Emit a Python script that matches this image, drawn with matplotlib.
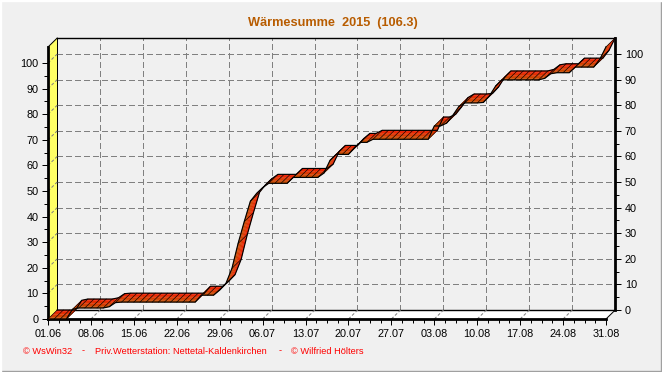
import matplotlib

matplotlib.use("Agg")
import matplotlib.pyplot as plt
from matplotlib.collections import PolyCollection
from matplotlib.patches import Polygon, Rectangle

plt.rcParams["font.family"] = ["Liberation Sans", "DejaVu Sans"]

# cumulative sum per day, 01.06 - 31.08
values = [
    0, 0, 0, 0, 3.8, 4.3, 4.3, 4.3, 4.3, 4.3,  # 01.06
    4.8, 6.4, 6.6, 6.6, 6.6, 6.6, 6.6, 6.6, 6.6, 6.6,  # 11.06
    6.6, 6.6, 6.6, 6.6, 6.6, 9.3, 9.3, 9.3, 11.3, 13.8,  # 21.06
    19.8, 29.5, 38, 46, 49, 51.3, 53, 53, 53, 53,  # 01.07
    55.3, 55.3, 55.3, 55.3, 55.3, 57, 62, 64.3, 64.3, 64.3,  # 11.07
    67, 69, 69, 70.2, 70.2, 70.2, 70.2, 70.2, 70.2, 70.2,  # 21.07
    70.2, 70.2, 70.2, 75.4, 75.4, 76.5, 79.5, 83, 84.4, 84.4,  # 31.07
    84.4, 84.6, 87.2, 91, 93.4, 93.4, 93.4, 93.4, 93.4, 93.4,  # 10.08
    93.4, 94, 95.8, 96.2, 96.2, 96.2, 98.4, 98.4, 98.4, 98.4,  # 20.08
    101.5, 106.3,  # 30.08
]
date_labels = [
    "01.06", "08.06", "15.06", "22.06", "29.06", "06.07", "13.07",
    "20.07", "27.07", "03.08", "10.08", "17.08", "24.08", "31.08",
]
y_major = list(range(0, 101, 10))
y_minor = list(range(5, 101, 10))

W, H = 662, 372
BG = "#F0F0F0"
DX = 1.5  # depth of the 3d box in days
DY = 3.5  # and in value units
YMAX = 106.25
XMAX = 91
GRID_COL = "#808080"
DASH = (0, (3.7, 2.7))
THIN = 0.72  # 1 px


def px_rect(left, top, right, bottom):
    return [left / W, 1 - bottom / H, (right - left) / W, (bottom - top) / H]


def mix(a, b, t):
    return tuple(a[k] + (b[k] - a[k]) * t for k in range(3))


fig = plt.figure(figsize=(W / 100, H / 100), dpi=100, facecolor=BG)

# window border
fig.add_artist(Rectangle((0, 0), 1, 1 / H, transform=fig.transFigure, color="#A0A0A0"))
fig.add_artist(Rectangle((1 - 1 / W, 0), 1 / W, 1, transform=fig.transFigure, color="#A0A0A0"))
fig.add_artist(Rectangle((0, 1 - 1 / H), 1, 1 / H, transform=fig.transFigure, color="#FFFFFF"))
fig.add_artist(Rectangle((0, 0), 1 / W, 1, transform=fig.transFigure, color="#FFFFFF"))

# back wall: grid and right axis
back = fig.add_axes(px_rect(57, 38, 615, 310), facecolor="none", zorder=1)
back.set_xlim(0, XMAX)
back.set_ylim(0, YMAX)
back.set_xticks(range(7, XMAX, 7))
back.set_yticks(y_major)
back.set_yticks(y_minor, minor=True)
back.grid(True, color=GRID_COL, linestyle=DASH, linewidth=1.0, antialiased=False)
back.get_ygridlines()[0].set_visible(False)
back.tick_params(axis="x", length=0, labelbottom=False)
back.yaxis.tick_right()
back.tick_params(axis="y", which="major", length=4, width=THIN, labelsize=7.8, pad=3)
back.tick_params(axis="y", which="minor", length=3, width=THIN)
for side in ["left", "bottom"]:
    back.spines[side].set_visible(False)
back.spines["top"].set_linewidth(1.0)
back.spines["right"].set_linewidth(2.0)

# front: left and bottom axis, floor, left wall and the ribbon
ax = fig.add_axes(px_rect(48, 47, 606, 319), facecolor="none", zorder=2)
ax.set_xlim(0, XMAX)
ax.set_ylim(0, YMAX)
ax.set_xticks(range(0, XMAX + 1, 7), date_labels)
ax.set_xticks([i * 1.75 for i in range(53)], minor=True)
ax.set_yticks(y_major)
ax.set_yticks(y_minor, minor=True)
ax.tick_params(axis="both", which="major", length=4, width=THIN, labelsize=7.8, pad=3)
ax.tick_params(axis="both", which="minor", length=3, width=THIN)
for side in ["top", "right"]:
    ax.spines[side].set_visible(False)
ax.spines["left"].set_linewidth(2.0)
ax.spines["bottom"].set_linewidth(2.0)

ax.add_patch(Polygon(
    [(0, 0), (DX, DY), (DX, YMAX + DY), (0, YMAX)],
    closed=True, facecolor="#FFFF66", edgecolor="none", clip_on=False, zorder=1,
))
ax.add_patch(Polygon(
    [(0, 0), (XMAX, 0), (XMAX + DX, DY), (DX, DY)],
    closed=True, facecolor="white", edgecolor="none", clip_on=False, zorder=1,
))
ax.plot([DX, DX], [DY, YMAX + DY], color="black", lw=THIN, clip_on=False, zorder=1.5)
ax.plot([DX, XMAX + DX], [DY, DY], color="black", lw=1.0, clip_on=False, zorder=1.5)
ax.plot([0, DX], [YMAX, YMAX + DY], color="black", lw=THIN, clip_on=False, zorder=1.5)
ax.plot([XMAX, XMAX + DX], [0, DY], color="black", lw=THIN, clip_on=False, zorder=1.5)

# dashed grid continued over the wall and the floor
for y in y_major[1:]:
    ax.plot([0, DX], [y, y + DY], color=GRID_COL, ls=(0, (3, 2)), lw=THIN, clip_on=False, zorder=1.5)
for x in range(7, XMAX, 7):
    ax.plot([x, x + DX], [0, DY], color=GRID_COL, ls=(0, (3, 2)), lw=THIN, clip_on=False, zorder=1.5)

# ribbon, brown at the front edge and red at the back edge
FRONT_COL = (0.75, 0.33, 0.0)
BACK_COL = (0.97, 0.10, 0.0)
BANDS = 6
polys = []
cols = []
for i in range(len(values) - 1):
    for b in range(BANDS):
        t0, t1 = b / BANDS, (b + 1) / BANDS
        polys.append([
            (i + DX * t0, values[i] + DY * t0),
            (i + 1 + DX * t0, values[i + 1] + DY * t0),
            (i + 1 + DX * t1, values[i + 1] + DY * t1),
            (i + DX * t1, values[i] + DY * t1),
        ])
        cols.append(mix(FRONT_COL, BACK_COL, (b + 0.5) / BANDS))
ax.add_collection(PolyCollection(
    polys, facecolors=cols, edgecolors=cols, linewidths=0.2, clip_on=False, zorder=3,
))

days = list(range(len(values)))
ax.plot(days, values, color="black", lw=0.85, clip_on=False, zorder=4)
ax.plot([d + DX for d in days], [v + DY for v in values], color="black", lw=0.85, clip_on=False, zorder=4)
for d, v in zip(days, values):
    ax.plot([d, d + DX], [v, v + DY], color="black", lw=0.45, clip_on=False, zorder=4)

fig.text(333 / W, 1 - 23 / H, "Wärmesumme  2015  (106.3)", color="#B85C00",
         fontsize=9.2, fontweight="bold", ha="center", va="center")

FOOT = "#FF0000"
fig.text(23 / W, 1 - 351 / H, "© WsWin32", color=FOOT, fontsize=6.7, va="center")
fig.text(95 / W, 1 - 351 / H, "Priv.Wetterstation: Nettetal-Kaldenkirchen", color=FOOT, fontsize=6.7, va="center")
fig.text(291 / W, 1 - 351 / H, "© Wilfried Hölters", color=FOOT, fontsize=6.7, va="center")
fig.text(82 / W, 1 - 351 / H, "-", color=FOOT, fontsize=6.7, va="center")
fig.text(279 / W, 1 - 351 / H, "-", color=FOOT, fontsize=6.7, va="center")

fig.savefig("out.png", dpi=100, facecolor=BG)
